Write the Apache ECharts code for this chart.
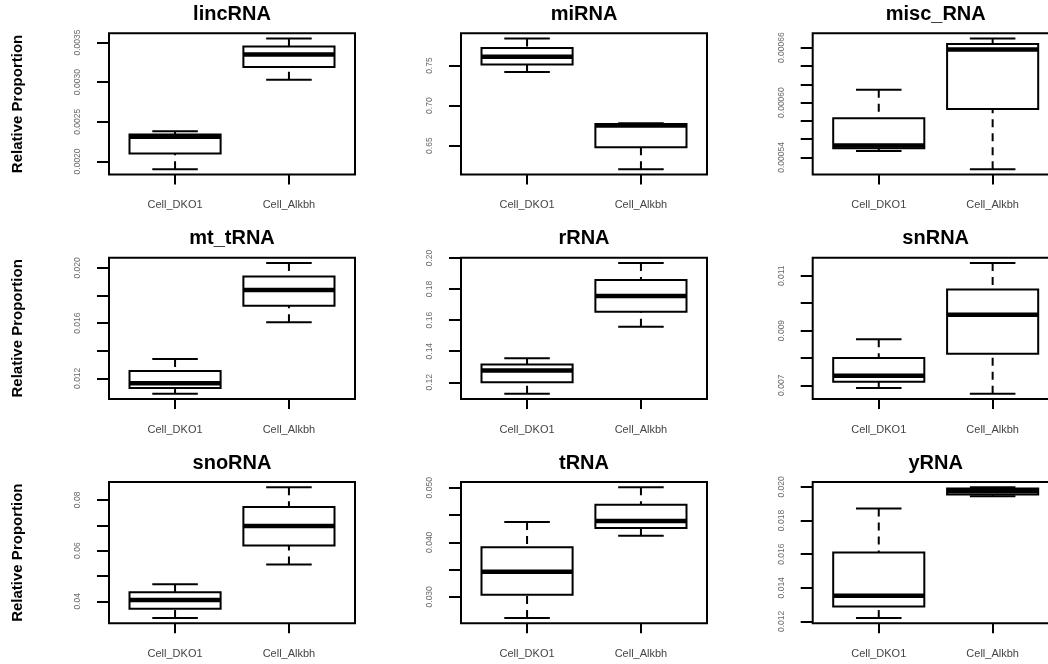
<!DOCTYPE html>
<html><head><meta charset="utf-8">
<script src="https://cdn.jsdelivr.net/npm/echarts@6.0.0/dist/echarts.min.js"></script>
<style>html,body{margin:0;padding:0;background:#fff}#c{width:1048px;height:664px}</style>
</head><body><div id="c"></div>
<script>
// ---- data ----
const panelTitles = ['lincRNA', 'miRNA', 'misc_RNA', 'mt_tRNA', 'rRNA', 'snRNA', 'snoRNA', 'tRNA', 'yRNA'];
const groups = ['Cell_DKO1', 'Cell_Alkbh'];
const groupPos = [1, 2];
const yAxisTitle = 'Relative Proportion';
// five-number summaries: [min, Q1, median, Q3, max]
const statsDKO1 = [
  [0.00190, 0.00210, 0.00231, 0.00234, 0.00238],
  [0.7421, 0.7513, 0.7609, 0.7721, 0.7838],
  [0.000547, 0.000550, 0.000553, 0.000583, 0.000614],
  [0.01088, 0.01129, 0.01164, 0.01253, 0.01340],
  [0.1126, 0.1200, 0.1275, 0.1314, 0.1355],
  [0.00690, 0.00713, 0.00735, 0.00800, 0.00868],
  [0.0334, 0.0371, 0.0405, 0.0436, 0.0467],
  [0.0261, 0.0304, 0.0346, 0.0391, 0.0437],
  [0.0122, 0.01289, 0.01352, 0.0161, 0.01871]
];
const statsAlkbh = [
  [0.00303, 0.00319, 0.00335, 0.00345, 0.00355],
  [0.6204, 0.6479, 0.6752, 0.6772, 0.6780],
  [0.000527, 0.000593, 0.000658, 0.000664, 0.000670],
  [0.01607, 0.01726, 0.01839, 0.01937, 0.02036],
  [0.1557, 0.1654, 0.1755, 0.1858, 0.1968],
  [0.00669, 0.00815, 0.00958, 0.01050, 0.01147],
  [0.0545, 0.0620, 0.0697, 0.0772, 0.0850],
  [0.0412, 0.0426, 0.0439, 0.0469, 0.0501],
  [0.01945, 0.01955, 0.01974, 0.01990, 0.01998]
];
const yTicks = [
  [0.0020, 0.0025, 0.0030, 0.0035],
  [0.65, 0.70, 0.75],
  [0.00054, 0.00056, 0.00058, 0.00060, 0.00062, 0.00064, 0.00066],
  [0.012, 0.014, 0.016, 0.018, 0.020],
  [0.12, 0.14, 0.16, 0.18, 0.20],
  [0.007, 0.008, 0.009, 0.010, 0.011],
  [0.04, 0.05, 0.06, 0.07, 0.08],
  [0.030, 0.035, 0.040, 0.045, 0.050],
  [0.012, 0.014, 0.016, 0.018, 0.020]
];
const yTickLabels = [
  ['0.0020', '0.0025', '0.0030', '0.0035'],
  ['0.65', '0.70', '0.75'],
  ['0.00054', '', '', '0.00060', '', '', '0.00066'],
  ['0.012', '', '0.016', '', '0.020'],
  ['0.12', '0.14', '0.16', '0.18', '0.20'],
  ['0.007', '', '0.009', '', '0.011'],
  ['0.04', '', '0.06', '', '0.08'],
  ['0.030', '', '0.040', '', '0.050'],
  ['0.012', '0.014', '0.016', '0.018', '0.020']
];

// ---- layout ----
const colLeft = [109, 461, 812.7];
const rowTop = [33.3, 257.7, 482];
const plotW = 246, plotH = 141.3;
const FONT = 'Liberation Sans, Arial, sans-serif';

function renderBox(params, api) {
  const x = api.value(0);
  const v = [api.value(1), api.value(2), api.value(3), api.value(4), api.value(5)];
  const half = 0.4, capHalf = 0.2;
  const p = (xx, yy) => api.coord([xx, yy]);
  const solid = { stroke: '#000', lineWidth: 2, fill: null };
  const dashed = { stroke: '#000', lineWidth: 2, lineDash: [8, 6], fill: null };
  const line = (a, b, style) => ({ type: 'line', shape: { x1: a[0], y1: a[1], x2: b[0], y2: b[1] }, style: style });
  const tl = p(x - half, v[3]);
  const br = p(x + half, v[1]);
  return {
    type: 'group',
    children: [
      line(p(x, v[0]), p(x, v[1]), dashed),
      line(p(x, v[4]), p(x, v[3]), dashed),
      line(p(x - capHalf, v[0]), p(x + capHalf, v[0]), solid),
      line(p(x - capHalf, v[4]), p(x + capHalf, v[4]), solid),
      { type: 'rect', shape: { x: tl[0], y: tl[1], width: br[0] - tl[0], height: br[1] - tl[1] }, style: { stroke: '#000', lineWidth: 2, fill: '#fff' } },
      line(p(x - half, v[2]), p(x + half, v[2]), { stroke: '#000', lineWidth: 4.5 })
    ]
  };
}

const grids = [], xAxes = [], yAxes = [], series = [], titles = [];
panelTitles.forEach((name, i) => {
  const r = Math.floor(i / 3), c = i % 3;
  const all = statsDKO1[i].concat(statsAlkbh[i]);
  const lo = Math.min.apply(null, all), hi = Math.max.apply(null, all);
  const pad = 0.04 * (hi - lo);
  grids.push({ left: colLeft[c], top: rowTop[r], width: plotW, height: plotH, show: true,
    borderColor: '#000', borderWidth: 2, backgroundColor: 'transparent', containLabel: false, outerBoundsMode: 'none' });
  titles.push({ text: name, left: colLeft[c] + plotW / 2, top: rowTop[r] - 29, textAlign: 'center', padding: 0,
    textStyle: { fontFamily: FONT, fontWeight: 'bold', fontSize: 20, color: '#000' } });
  xAxes.push({ gridIndex: i, type: 'value', min: 0.42, max: 2.58,
    axisLine: { show: false }, splitLine: { show: false },
    axisTick: { show: true, length: 10, customValues: groupPos, lineStyle: { color: '#000', width: 2 } },
    axisLabel: { customValues: groupPos, margin: 25, fontSize: 11, color: '#444', fontFamily: FONT,
      formatter: v => groups[groupPos.indexOf(v)] || '' } });
  const labeled = yTicks[i].filter((t, j) => yTickLabels[i][j] !== '');
  const yAx = { gridIndex: i, type: 'value', min: lo - pad, max: hi + pad, scale: true,
    axisLine: { show: false }, splitLine: { show: false },
    axisTick: { show: true, length: 12, customValues: yTicks[i], lineStyle: { color: '#000', width: 2 } },
    axisLabel: { customValues: labeled, rotate: 90, margin: 27, fontSize: 8.5, color: '#6a6a6a',
      fontFamily: 'Liberation Sans Narrow, Liberation Sans, Arial, sans-serif',
      formatter: v => { const j = yTicks[i].findIndex(t => Math.abs(t - v) < 1e-12); return j >= 0 ? yTickLabels[i][j] : ''; } } };
  if (c === 0) {
    yAx.name = yAxisTitle; yAx.nameLocation = 'middle'; yAx.nameGap = 84; yAx.nameRotate = 90;
    yAx.nameTextStyle = { fontFamily: FONT, fontWeight: 'bold', fontSize: 15, color: '#000' };
  }
  yAxes.push(yAx);
  series.push({ type: 'custom', xAxisIndex: i, yAxisIndex: i, renderItem: renderBox, silent: true, clip: false,
    encode: { x: 0, y: [1, 2, 3, 4, 5] },
    data: groupPos.map((g, k) => [g].concat(k === 0 ? statsDKO1[i] : statsAlkbh[i])) });
});

const chart = echarts.init(document.getElementById('c'), null, { renderer: 'canvas' });
chart.setOption({ backgroundColor: '#fff', animation: false, title: titles, grid: grids,
  xAxis: xAxes, yAxis: yAxes, series: series });
</script></body></html>
